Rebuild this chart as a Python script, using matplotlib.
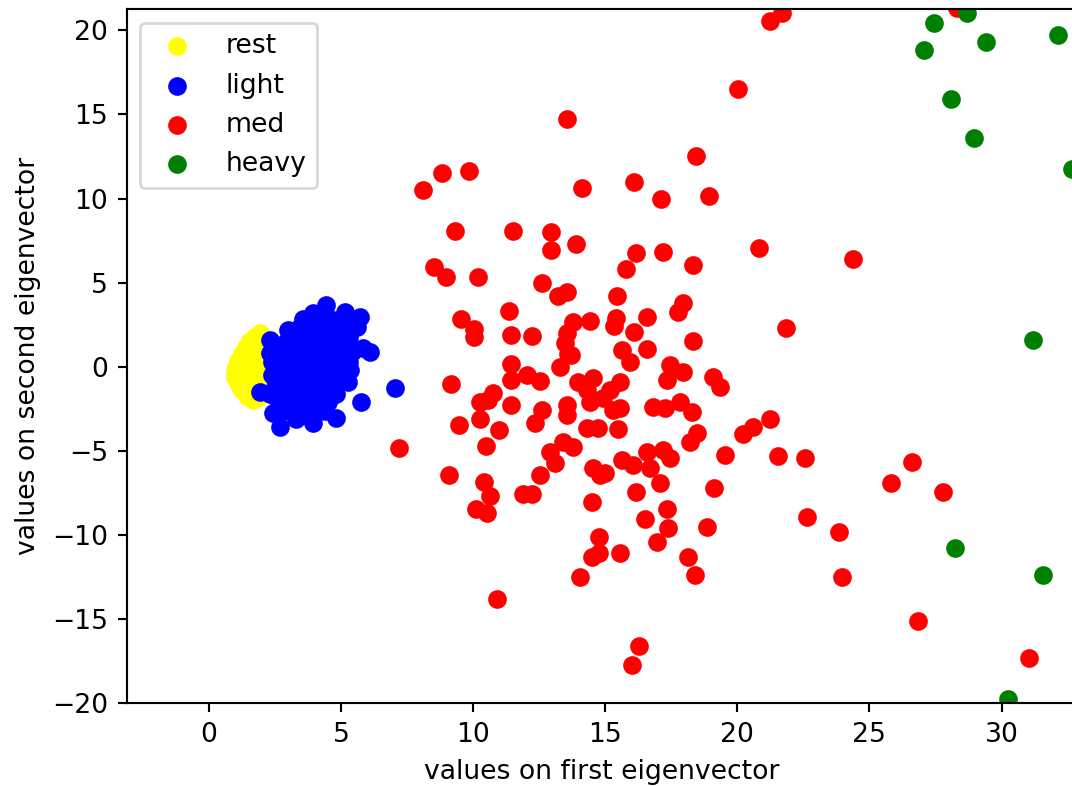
import matplotlib
matplotlib.use('Agg')
import matplotlib.pyplot as plt

# projections onto the first two eigenvectors, one list pair per class
rest_x = [1.93, 1.75, 1.55, 1.40, 1.25, 1.10, 1.02, 0.98, 1.00, 1.08, 1.20, 1.35,
          1.48, 1.65, 1.80, 1.95, 2.05, 2.10, 1.85, 1.60, 1.40, 1.25, 1.50, 1.70,
          1.90, 1.35, 1.15, 1.60, 1.80, 2.00, 1.45, 1.70, 1.30, 1.55, 1.95, 1.20]
rest_y = [2.02, 1.80, 1.55, 1.20, 0.75, 0.35, 0.00, -0.30, -0.60, -0.95, -1.30, -1.55,
          -1.80, -2.00, -1.85, -1.50, 0.90, 1.60, 1.30, 0.90, 0.50, -0.10, -0.40, -0.80,
          0.20, -1.00, 0.10, 0.30, -0.30, -1.00, 0.00, -1.40, 0.60, -1.10, -0.60, -0.60]

light_x = [4.43, 5.15, 5.72, 5.59, 6.09, 5.84, 5.34, 5.27, 7.04, 5.75, 4.81, 3.95,
           2.69, 2.43, 1.93, 2.31, 3.00, 3.57, 3.95, 4.70,
           2.5, 2.4, 2.4, 2.5, 2.6, 2.9, 3.0, 2.9, 3.0, 3.1, 3.2, 3.3,
           3.4, 3.5, 3.5, 3.4, 3.6, 3.7, 3.8, 4.0, 4.0, 4.1, 4.0, 4.2,
           4.1, 4.2, 4.5, 4.6, 4.6, 4.7, 4.5, 4.5, 5.0, 5.1, 5.0, 5.2,
           4.9, 3.1, 2.7, 2.8, 4.3, 3.7, 5.4,
           2.7, 2.7, 2.7, 3.2, 3.2, 3.2, 3.2, 3.2, 3.8, 3.8, 3.8, 3.8,
           3.8, 3.8, 4.4, 4.4, 4.4, 4.4, 4.4, 4.4, 4.8, 4.8, 4.8, 4.8,
           5.3, 5.3, 2.3, 2.3, 2.6]
light_y = [3.66, 3.27, 2.97, 2.38, 0.89, 1.09, -0.20, -0.89, -1.28, -2.08, -3.07, -3.36,
           -3.56, -2.77, -1.48, 1.59, 2.18, 2.87, 3.17, 2.77,
           1.0, 0.3, -0.5, -1.2, -2.0, 1.5, 0.6, -0.2, -1.0, -1.8, -2.6, -3.1,
           2.3, 1.3, 0.2, -0.6, -1.4, -2.2, -2.9, 2.5, 1.6, 0.8, -0.1, -0.9,
           -1.7, -2.5, 2.0, 1.2, 0.4, -0.5, -1.3, -2.1, 2.1, 1.4, 0.5, 2.6,
           -1.0, 0.0, 0.4, -2.6, 2.9, 2.7, 0.9,
           1.2, -0.9, -1.6, 1.9, 1.0, -0.4, -1.4, -2.2, 2.0, 1.1, 0.4, -0.4,
           -1.1, -1.9, 2.5, 1.5, 0.0, -0.9, -1.7, -2.6, 1.7, 0.9, -0.2, -1.6,
           1.8, 0.3, -1.6, 0.8, -0.3]

med_x = [21.23, 21.68, 28.30, 13.54, 20.01, 18.42, 8.09, 8.81, 9.83, 14.13,
         16.09, 17.11, 18.93, 9.32, 11.51, 12.94, 12.94, 13.89, 16.15, 15.78,
         17.17, 18.33, 20.81, 24.36, 8.52, 8.96, 10.19, 12.60, 13.22, 13.54,
         15.43, 17.76, 17.95, 9.54, 10.04, 10.04, 11.35, 11.42, 12.21, 13.78,
         14.42, 13.54, 13.48, 13.60, 15.40, 15.34, 16.59, 16.09, 18.33, 15.64,
         16.59, 21.84, 15.93, 13.72, 13.29, 11.42, 11.42, 12.02, 12.53, 9.16,
         17.45, 17.95, 17.32, 19.09, 19.34, 13.98, 14.55, 14.30, 14.42, 15.56,
         15.18, 14.92, 15.56, 15.30, 10.76, 10.26, 10.57, 11.42, 13.54, 13.54,
         12.59, 12.34, 9.47, 10.26, 10.99, 14.30, 14.74, 15.47, 16.82, 17.26,
         17.83, 18.27, 18.46, 18.21, 19.53, 10.48, 12.91, 13.41, 13.77, 13.10,
         15.62, 16.06, 16.57, 17.20, 17.45, 16.69, 17.07, 14.55, 14.80, 14.99,
         9.10, 12.53, 10.41, 10.64, 11.90, 12.21, 14.48, 16.15, 19.13, 10.11,
         10.51, 17.32, 16.50, 17.38, 18.84, 16.95, 14.77, 14.48, 14.77, 15.56,
         18.12, 18.40, 14.04, 10.91, 16.29, 16.00, 7.20, 20.22, 20.58, 21.23,
         21.55, 22.56, 22.62, 23.86, 23.95, 26.62, 25.81, 27.79, 26.85, 31.05]
med_y = [20.56, 21.00, 21.30, 14.72, 16.54, 12.54, 10.50, 11.54, 11.63, 10.60,
         10.96, 9.95, 10.14, 8.10, 8.10, 8.00, 6.93, 7.29, 6.74, 5.80,
         6.83, 6.04, 7.07, 6.38, 5.94, 5.35, 5.35, 5.01, 4.22, 4.42,
         4.20, 3.27, 3.77, 2.83, 2.22, 1.78, 3.31, 1.92, 1.82, 2.67,
         2.73, 1.98, 1.39, 0.79, 2.88, 2.42, 2.97, 2.04, 1.53, 0.99,
         1.03, 2.28, 0.30, 0.70, 0.00, 0.16, -0.79, -0.49, -0.83, -1.03,
         0.10, -0.30, -0.79, -0.59, -1.19, -0.89, -0.69, -1.38, -2.08, -0.89,
         -1.38, -1.88, -2.47, -2.57, -1.58, -2.08, -1.98, -2.28, -2.28, -2.87,
         -2.57, -3.36, -3.46, -3.13, -3.76, -3.66, -3.66, -3.72, -2.38, -2.47,
         -2.08, -2.67, -3.96, -4.46, -5.25, -4.71, -5.05, -4.46, -4.75, -5.74,
         -5.54, -5.84, -5.05, -4.95, -5.44, -6.04, -6.93, -6.04, -6.43, -6.30,
         -6.43, -6.43, -6.83, -7.68, -7.56, -7.56, -8.06, -7.46, -7.19, -8.47,
         -8.71, -8.47, -9.07, -9.60, -9.51, -10.40, -10.14, -11.29, -11.09, -11.09,
         -11.33, -12.38, -12.51, -13.82, -16.58, -17.73, -4.81, -4.00, -3.56, -3.13,
         -5.31, -5.41, -8.95, -9.84, -12.48, -5.64, -6.89, -7.46, -15.11, -17.29]

heavy_x = [27.44, 27.07, 28.71, 29.40, 32.15, 28.08, 28.95, 32.66, 31.20, 28.24, 31.58, 30.25]
heavy_y = [20.44, 18.82, 21.03, 19.29, 19.75, 15.89, 13.59, 11.75, 1.59, -10.75, -12.38, -19.75]

fig = plt.figure(figsize=(1072 / 192, 786 / 192), dpi=192)
ax = fig.add_axes([0.1182, 0.1052, 0.8858, 0.8830])

ax.scatter(rest_x, rest_y, c='yellow', label='rest')
ax.scatter(light_x, light_y, c='blue', label='light')
ax.scatter(med_x, med_y, c='red', label='med')
ax.scatter(heavy_x, heavy_y, c='green', label='heavy')

ax.set_xlim(-3.115, 32.83)
ax.set_ylim(-20, 21.25)
ax.set_xlabel('values on first eigenvector')
ax.set_ylabel('values on second eigenvector')
ax.legend(loc='upper left')

fig.savefig('out.png', dpi=192)
